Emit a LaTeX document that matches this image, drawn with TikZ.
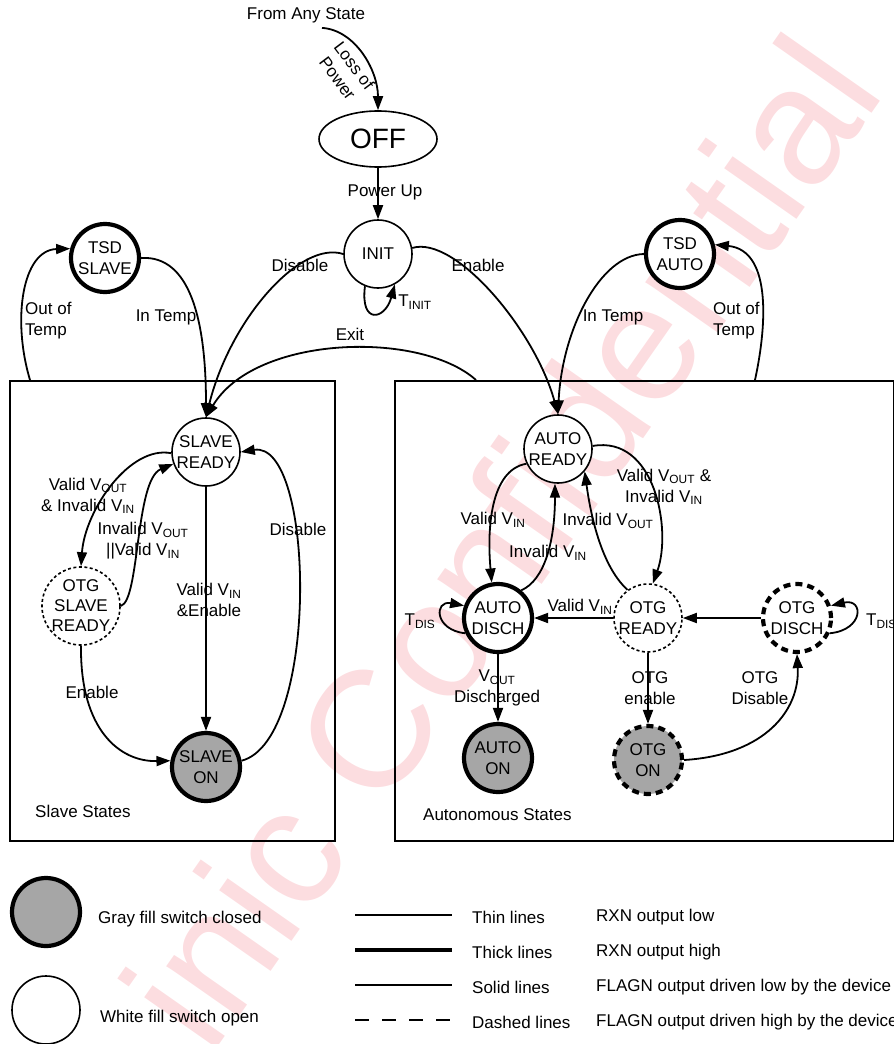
\documentclass[tikz,border=0pt]{standalone}
\usepackage{fontspec}
\setmainfont{Liberation Sans}
\usetikzlibrary{arrows.meta,shapes.geometric}
\definecolor{wm}{RGB}{252,221,224}
\definecolor{gfillc}{RGB}{166,166,166}
\begin{document}
\begin{tikzpicture}[x=1pt,y=-1pt,
  every node/.style={font=\fontsize{17}{21}\selectfont, inner sep=0pt},
  st/.style={circle, draw, fill=white, minimum size=68pt, align=center, line width=1.6pt},
  thk/.style={line width=4.2pt},
  dsh/.style={dash pattern=on 3pt off 2.5pt},
  dshthk/.style={line width=4.2pt, dash pattern=on 7pt off 5pt},
  gfill/.style={fill=gfillc},
  arr/.style={line width=1.8pt, -{Triangle[length=14pt,width=10pt]}},
  lbl/.style={align=center},
  box/.style={draw, line width=1.6pt, anchor=north west, inner sep=0pt}
]
\useasboundingbox (0,0) rectangle (894,1044);
% watermark
\begin{scope}
\clip (0,0) rectangle (894,1044);
\node[rotate=55, anchor=center, text=wm, font=\fontsize{167}{167}\selectfont] (wmk) at (500,540) {inic Confidential};
\end{scope}

% boxes
\node[box, minimum width=325pt, minimum height=460pt] (sbox) at (9,380) {};
\node[box, minimum width=499pt, minimum height=460pt] (abox) at (394,380) {};
\coordinate (sOut) at (30,380);
\coordinate (aOut) at (755,380);
\coordinate (aExit) at (476,380);
\node[anchor=west] (slst) at (35,811) {Slave States};
\node[anchor=west] (aust) at (423,815) {Autonomous States};

% states
\node (fas) at (306,15) {From Any State};
\node[draw, ellipse, fill=white, line width=1.6pt, minimum width=118pt, minimum height=56pt, font=\fontsize{28}{30}\selectfont] (off) at (378,139) {OFF};
\node[st] (init) at (378,254) {INIT};
\node[st,thk] (tsds) at (105,258) {TSD\\SLAVE};
\node[st,thk] (tsda) at (680,254) {TSD\\AUTO};
\node[st] (sr) at (206,452) {SLAVE\\READY};
\node[st,dsh,font=\fontsize{17}{20}\selectfont] (osr) at (81,606) {OTG\\SLAVE\\READY};
\node[st,thk,gfill] (son) at (206,767) {SLAVE\\ON};
\node[st] (ar) at (558,449) {AUTO\\READY};
\node[st,thk] (ad) at (498,618) {AUTO\\DISCH};
\node[st,dsh] (or) at (648,618) {OTG\\READY};
\node[st,dshthk] (od) at (797,618) {OTG\\DISCH};
\node[st,thk,gfill] (aon) at (498,758) {AUTO\\ON};
\node[st,dshthk,gfill] (oon) at (648,760) {OTG\\ON};

% top connectors
\draw[arr] ([xshift=16pt,yshift=-5pt]fas.south) .. controls (355,30) and (378,70) .. (off.north);
\node[rotate=-53, lbl] (lop) at (346,72) {Loss of\\Power};
\draw[arr] (off) -- (init);
\node (lpu) at (385,192) {Power Up};
\draw[arr] (init.248) .. controls (360,325) and (385,320) .. (init.299);
\node (lti) at (415,302) {T\textsubscript{INIT}};

\draw[arr] (init.west) .. controls (300,240) and (230,320) .. (sr.north);
\node (ldis) at (300,265) {Disable};
\draw[arr] (init.10) .. controls (455,235) and (535,330) .. (ar.north);
\node (lena) at (478,265) {Enable};

\draw[arr] (tsds.east) .. controls (190,255) and (206,320) .. (sr.north);
\node (lits) at (166,317) {In Temp};
\draw[arr] (sOut) .. controls (12,320) and (22,250) .. (tsds.165);
\node[anchor=west, align=left] (lots) at (25,321) {Out of\\Temp};

\draw[arr] (tsda.west) .. controls (600,255) and (562,330) .. (ar.north);
\node (lita) at (613,317) {In Temp};
\draw[arr] (aOut) .. controls (768,320) and (770,250) .. (tsda.15);
\node[anchor=west, align=left] (lota) at (713,321) {Out of\\Temp};

\draw[arr] (aExit) .. controls (420,330) and (255,335) .. (sr.north);
\node (lexit) at (350,334) {Exit};

% slave connectors
\draw[arr] (sr.182) .. controls (130,445) and (85,510) .. (osr.north);
\node[lbl] (l1) at (88,496) {Valid V\textsubscript{OUT}\\\& Invalid V\textsubscript{IN}};
\draw[arr] (osr.east) .. controls (140,600) and (135,480) .. (sr.200);
\node[lbl] (l2) at (143,541) {Invalid V\textsubscript{OUT}\\||Valid V\textsubscript{IN}};
\draw[arr] (sr) -- (son);
\node[lbl] (l3) at (209,600) {Valid V\textsubscript{IN}\\\&Enable};
\draw[arr] (osr.south) .. controls (80,730) and (120,762) .. (son.170);
\node (l4) at (92,692) {Enable};
\draw[arr] (son.10) .. controls (320,740) and (315,440) .. (sr.east);
\node (l5) at (298,529) {Disable};

% auto connectors
\draw[arr] (ar.205) .. controls (490,470) and (487,530) .. (ad.100);
\node (a1) at (493,520) {Valid V\textsubscript{IN}};
\draw[arr] (ad.50) .. controls (545,580) and (555,540) .. (ar.265);
\node (a2) at (548,553) {Invalid V\textsubscript{IN}};
\draw[arr] (or.126) .. controls (600,565) and (590,510) .. (ar.320);
\node (a3) at (608,521) {Invalid V\textsubscript{OUT}};
\draw[arr] (ar.5) .. controls (655,435) and (672,530) .. (or.82);
\node[lbl] (a4) at (664,487) {Valid V\textsubscript{OUT} \&\\Invalid V\textsubscript{IN}};
\draw[arr] (or) -- (ad);
\node (a5) at (580,607) {Valid V\textsubscript{IN}};
\draw[arr] (ad.205) .. controls (434,630) and (434,600) .. (ad.160);
\node (a6) at (420,621) {T\textsubscript{DIS}};
\draw[arr] (od) -- (or);
\draw[arr] (od.335) .. controls (864,630) and (864,598) .. (od.20);
\node[anchor=west] (a7) at (866,621) {T\textsubscript{DIS}};
\draw[arr] (ad) -- (aon);
\node[lbl] (a8) at (497,688) {V\textsubscript{OUT}\\Discharged};
\draw[arr] (or) -- (oon);
\node[lbl] (a9) at (650,688) {OTG\\enable};
\draw[arr] (oon.east) .. controls (765,755) and (800,710) .. (od.south);
\node[lbl] (a10) at (760,688) {OTG\\Disable};

% legend
\node[circle, draw, line width=4.2pt, fill=gfillc, minimum size=68pt] (lgg) at (46,912) {};
\node[circle, draw, line width=1.6pt, fill=white, minimum size=68pt] (lgw) at (46,1010) {};
\node[anchor=west] (lggt) at (98,919) {Gray fill switch closed};
\node[anchor=west] (lgwt) at (100,1018) {White fill switch open};
\coordinate (L1a) at (355,915); \coordinate (L1b) at (452,915);
\coordinate (L2a) at (355,950); \coordinate (L2b) at (452,950);
\coordinate (L3a) at (355,985); \coordinate (L3b) at (452,985);
\coordinate (L4a) at (355,1020); \coordinate (L4b) at (452,1020);
\draw[line width=1.6pt] (L1a) -- (L1b);
\draw[line width=4.2pt] (L2a) -- (L2b);
\draw[line width=1.6pt] (L3a) -- (L3b);
\draw[line width=1.6pt, dash pattern=on 14pt off 13pt] (L4a) -- (L4b);
\node[anchor=west] (t1) at (472,917) {Thin lines};
\node[anchor=west] (t2) at (472,952) {Thick lines};
\node[anchor=west] (t3) at (472,987) {Solid lines};
\node[anchor=west] (t4) at (472,1022) {Dashed lines};
\node[anchor=west] (d1) at (596,917) {RXN output low};
\node[anchor=west] (d2) at (596,952) {RXN output high};
\node[anchor=west] (d3) at (596,987) {FLAGN output driven low by the device};
\node[anchor=west] (d4) at (596,1022) {FLAGN output driven high by the device};
\end{tikzpicture}
\end{document}
